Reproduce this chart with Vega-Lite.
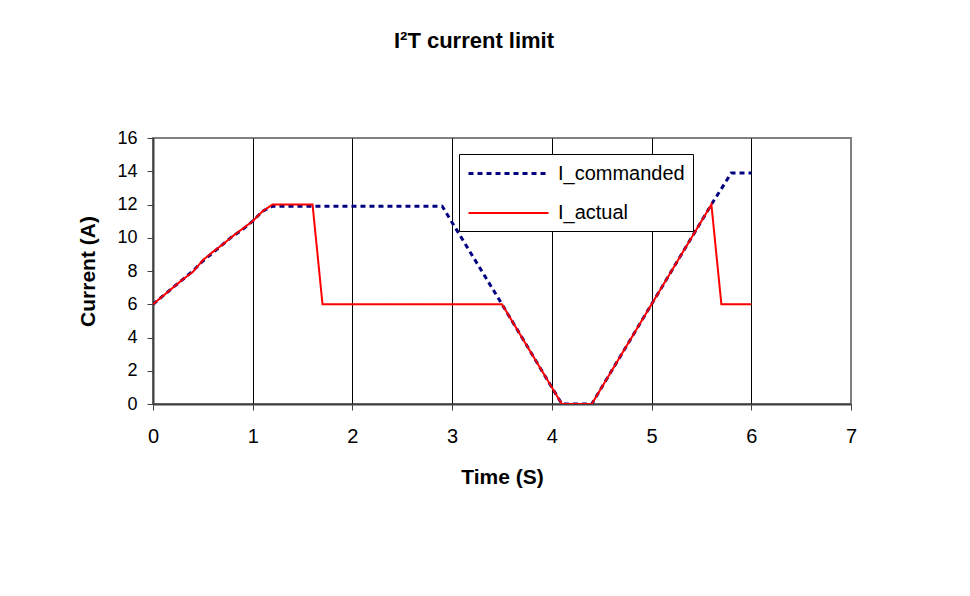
{
  "$schema": "https://vega.github.io/schema/vega-lite/v6.json",
  "width": 698,
  "height": 266,
  "autosize": {"type": "none"},
  "padding": {"left": 153, "top": 138, "right": 119, "bottom": 192},
  "background": "white",
  "title": {
    "text": "I²T current limit",
    "font": "Liberation Sans",
    "fontSize": 22,
    "fontWeight": "bold",
    "color": "black",
    "anchor": "middle",
    "dx": -28,
    "baseline": "alphabetic",
    "offset": 59
  },
  "config": {
    "font": "Liberation Sans",
    "view": {"stroke": "#808080", "strokeWidth": 2},
    "legend": {
      "orient": "none",
      "legendX": 306,
      "legendY": 16,
      "direction": "vertical",
      "fillColor": "white",
      "strokeColor": "black",
      "padding": 8,
      "symbolType": "M-1,0H7",
      "symbolSize": 400,
      "labelFont": "Liberation Sans",
      "labelFontSize": 20,
      "labelColor": "black",
      "labelOffset": 68,
      "rowPadding": 18,
      "title": null
    }
  },
  "data": {
    "values": [
      {"t": 0.0, "current": 6.0, "series": "I_commanded"},
      {"t": 0.1, "current": 6.5, "series": "I_commanded"},
      {"t": 0.2, "current": 7.0, "series": "I_commanded"},
      {"t": 0.3, "current": 7.5, "series": "I_commanded"},
      {"t": 0.4, "current": 8.0, "series": "I_commanded"},
      {"t": 0.5, "current": 8.6, "series": "I_commanded"},
      {"t": 0.6, "current": 9.1, "series": "I_commanded"},
      {"t": 0.7, "current": 9.6, "series": "I_commanded"},
      {"t": 0.8, "current": 10.1, "series": "I_commanded"},
      {"t": 0.9, "current": 10.5, "series": "I_commanded"},
      {"t": 1.0, "current": 11.0, "series": "I_commanded"},
      {"t": 1.1, "current": 11.6, "series": "I_commanded"},
      {"t": 1.2, "current": 11.9, "series": "I_commanded"},
      {"t": 2.9, "current": 11.9, "series": "I_commanded"},
      {"t": 3.5, "current": 6.0, "series": "I_commanded"},
      {"t": 4.1, "current": 0.0, "series": "I_commanded"},
      {"t": 4.4, "current": 0.0, "series": "I_commanded"},
      {"t": 5.0, "current": 6.0, "series": "I_commanded"},
      {"t": 5.6, "current": 12.0, "series": "I_commanded"},
      {"t": 5.8, "current": 13.9, "series": "I_commanded"},
      {"t": 6.0, "current": 13.9, "series": "I_commanded"},
      {"t": 0.0, "current": 6.0, "series": "I_actual"},
      {"t": 0.1, "current": 6.5, "series": "I_actual"},
      {"t": 0.2, "current": 7.0, "series": "I_actual"},
      {"t": 0.3, "current": 7.5, "series": "I_actual"},
      {"t": 0.4, "current": 7.95, "series": "I_actual"},
      {"t": 0.5, "current": 8.65, "series": "I_actual"},
      {"t": 0.6, "current": 9.15, "series": "I_actual"},
      {"t": 0.7, "current": 9.6, "series": "I_actual"},
      {"t": 0.8, "current": 10.1, "series": "I_actual"},
      {"t": 0.9, "current": 10.55, "series": "I_actual"},
      {"t": 1.0, "current": 11.0, "series": "I_actual"},
      {"t": 1.1, "current": 11.6, "series": "I_actual"},
      {"t": 1.2, "current": 12.0, "series": "I_actual"},
      {"t": 1.6, "current": 12.0, "series": "I_actual"},
      {"t": 1.7, "current": 6.0, "series": "I_actual"},
      {"t": 3.5, "current": 6.0, "series": "I_actual"},
      {"t": 4.1, "current": 0.0, "series": "I_actual"},
      {"t": 4.4, "current": 0.0, "series": "I_actual"},
      {"t": 5.0, "current": 6.0, "series": "I_actual"},
      {"t": 5.6, "current": 12.0, "series": "I_actual"},
      {"t": 5.7, "current": 6.0, "series": "I_actual"},
      {"t": 6.0, "current": 6.0, "series": "I_actual"}
    ]
  },
  "mark": {"type": "line", "strokeJoin": "miter", "clip": true},
  "encoding": {
    "x": {
      "field": "t",
      "type": "quantitative",
      "scale": {"domain": [0, 7], "nice": false, "zero": false},
      "axis": {
        "title": "Time (S)",
        "values": [0, 1, 2, 3, 4, 5, 6, 7],
        "format": "d",
        "grid": true,
        "gridColor": {"condition": {"test": "datum.value == 7", "value": "#808080"}, "value": "black"},
        "gridWidth": 1,
        "gridOpacity": 1,
        "domainColor": "#404040",
        "domainWidth": 2,
        "tickColor": "#404040",
        "tickSize": 6,
        "tickWidth": 1,
        "labelFont": "Liberation Sans",
        "labelFontSize": 20,
        "labelColor": "black",
        "labelPadding": 16,
        "labelFlush": false,
        "labelOverlap": false,
        "titleFont": "Liberation Sans",
        "titleFontSize": 21,
        "titleFontWeight": "bold",
        "titleColor": "black",
        "titleBaseline": "alphabetic",
        "titleX": 349,
        "titleY": 79
      }
    },
    "y": {
      "field": "current",
      "type": "quantitative",
      "scale": {"domain": [0, 16], "nice": false},
      "axis": {
        "title": "Current (A)",
        "values": [0, 2, 4, 6, 8, 10, 12, 14, 16],
        "grid": false,
        "domainColor": "#404040",
        "domainWidth": 2,
        "tickColor": "#404040",
        "tickSize": 6,
        "tickWidth": 1,
        "labelFont": "Liberation Sans",
        "labelFontSize": 18,
        "labelColor": "black",
        "labelPadding": 10,
        "labelFlush": false,
        "labelOverlap": false,
        "titleFont": "Liberation Sans",
        "titleFontSize": 21,
        "titleFontWeight": "bold",
        "titleColor": "black",
        "titleAngle": 270,
        "titleBaseline": "alphabetic",
        "titleX": -59,
        "titleY": 133
      }
    },
    "color": {
      "field": "series",
      "type": "nominal",
      "scale": {"domain": ["I_commanded", "I_actual"], "range": ["#000080", "#FF0000"]}
    },
    "strokeDash": {
      "field": "series",
      "type": "nominal",
      "scale": {"domain": ["I_commanded", "I_actual"], "range": [[5, 4], [1, 0]]}
    },
    "strokeWidth": {
      "field": "series",
      "type": "nominal",
      "scale": {"domain": ["I_commanded", "I_actual"], "range": [3, 2]}
    }
  }
}
